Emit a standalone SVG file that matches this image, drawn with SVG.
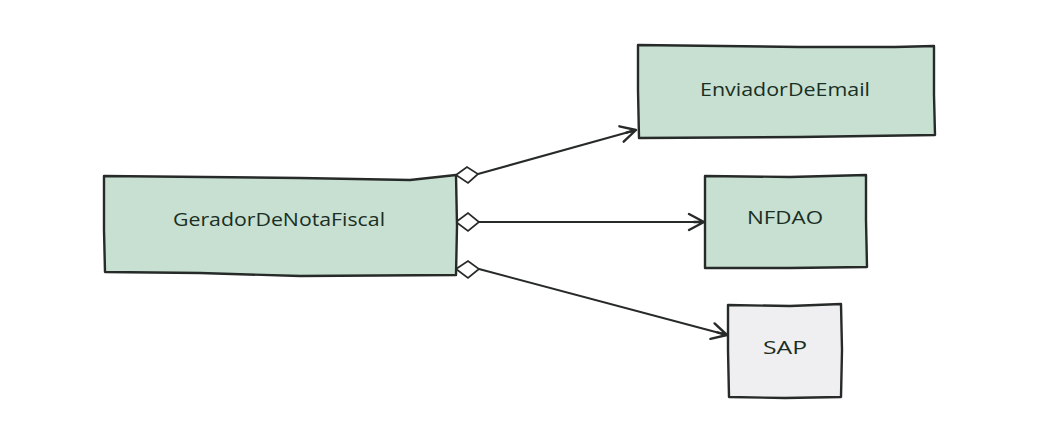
<svg xmlns="http://www.w3.org/2000/svg" width="1059" height="443" viewBox="0 0 1059 443">
<style>
.box{stroke:#262a28;stroke-width:2.4;stroke-linejoin:round;}
.green{fill:#c7e0d2;}
.grey{fill:#efeef1;}
.lbl{font-family:"Open Sans","DejaVu Sans",sans-serif;font-size:18px;fill:#1a2e23;text-anchor:middle;}
.conn{stroke:#262a28;stroke-width:2;fill:none;}
.dia{fill:#ffffff;stroke:#262a28;stroke-width:1.7;}
</style>
<defs>
<marker id="arr" viewBox="0 0 20 20" refX="18" refY="10" markerWidth="20" markerHeight="20" markerUnits="userSpaceOnUse" orient="auto">
<path d="M3,2 L18,10 L3,18 M8,10 L18,10" fill="none" stroke="#262a28" stroke-width="2.4" stroke-linecap="round" stroke-linejoin="round"/>
</marker>
</defs>
<rect width="1059" height="443" fill="#ffffff"/>
<g id="connectors">
<path class="conn" d="M478,174 L636,130" marker-end="url(#arr)"/>
<path class="conn" d="M479,222 L704,222" marker-end="url(#arr)"/>
<path class="conn" d="M479,269 L727,335" marker-end="url(#arr)"/>
<path class="dia" d="M456,175 L467,167 L478,174 L468,183 Z"/>
<path class="dia" d="M456,222 L468,213 L479,222 L468,231 Z"/>
<path class="dia" d="M456,269 L468,261 L479,269 L468,278 Z"/>
</g>
<g id="GeradorDeNotaFiscal">
<path class="box green" d="M104,176 L300,178 L410,180 L456,175 L457,226 L456,275 L300,276 L200,273 L105,272 L104,230 Z"/>
<text class="lbl" x="279" y="226" textLength="212" lengthAdjust="spacingAndGlyphs">GeradorDeNotaFiscal</text>
</g>
<g id="EnviadorDeEmail">
<path class="box green" d="M638,45 L800,47 L895,47 L934,46 L934,95 L935,135 L800,137 L639,138 L638,90 Z"/>
<text class="lbl" x="785" y="96" textLength="170" lengthAdjust="spacingAndGlyphs">EnviadorDeEmail</text>
</g>
<g id="NFDAO">
<path class="box green" d="M705,176 L790,177 L866,175 L866,220 L867,267 L790,268 L705,268 L705,222 Z"/>
<text class="lbl" x="785" y="224" textLength="76" lengthAdjust="spacingAndGlyphs">NFDAO</text>
</g>
<g id="SAP">
<path class="box grey" d="M728,305 L790,306 L841,304 L842,350 L841,397 L785,398 L729,397 L728,350 Z"/>
<text class="lbl" x="785" y="354" textLength="44" lengthAdjust="spacingAndGlyphs">SAP</text>
</g>
</svg>
